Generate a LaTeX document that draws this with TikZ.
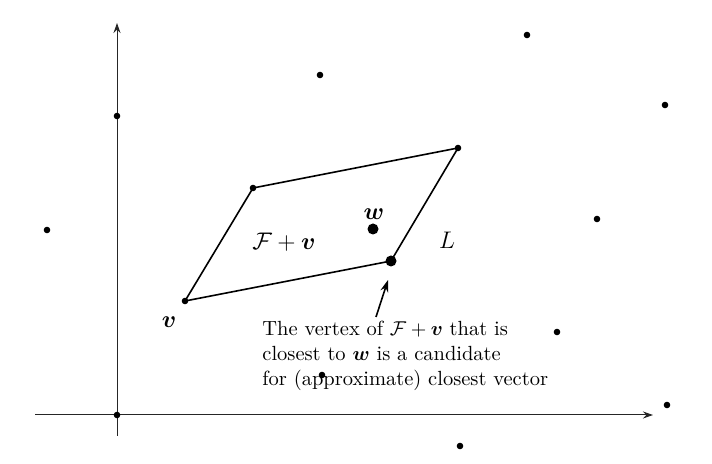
\documentclass[tikz,border=0pt]{standalone}
\usepackage{amsmath,amssymb}
\usetikzlibrary{arrows.meta}
\begin{document}
\begin{tikzpicture}[x=0.5pt,y=-0.5pt,
  dot/.style={circle,fill=black,inner sep=0pt,minimum size=3.3pt},
  bigdot/.style={circle,fill=black,inner sep=0pt,minimum size=5.5pt},
  axis/.style={line width=0.5pt,draw=black!85,-{Stealth[length=5pt,width=3.5pt]}},
  edge/.style={line width=0.8pt},
  lbl/.style={inner sep=0pt,font=\fontsize{13}{15}\selectfont}]
\useasboundingbox (0,0) rectangle (712,464);
% axes
\coordinate (xl) at (35,415);
\coordinate (xr) at (653,415);
\coordinate (yb) at (117,436);
\coordinate (yt) at (117,23);
\draw[axis] (xl) -- (xr);
\draw[axis] (yb) -- (yt);
% lattice points
\node[dot] (o) at (117,415) {};
\node[dot] (p1) at (117,116) {};
\node[dot] (p2) at (47,230) {};
\node[dot] (p3) at (320,75) {};
\node[dot] (p4) at (527,35) {};
\node[dot] (p5) at (665,105) {};
\node[dot] (p6) at (597,219) {};
\node[dot] (p7) at (557,332) {};
\node[dot] (p8) at (322,375) {};
\node[dot] (p9) at (667,405) {};
\node[dot] (p10) at (460,446) {};
% parallelogram
\node[dot] (v) at (185,301) {};
\node[dot] (a) at (253,188) {};
\node[dot] (b) at (458,148) {};
\node[bigdot] (c) at (391,261) {};
\draw[edge] (v.center) -- (a.center) -- (b.center) -- (c.center) -- (v.center);
% w
\node[bigdot] (w) at (373,229) {};
% labels
\node[lbl] (vl) at (169,322) {$\boldsymbol{v}$};
\node[lbl] (fl) at (284,242) {$\mathcal{F}+\boldsymbol{v}$};
\node[lbl] (wl) at (374,214) {$\boldsymbol{w}$};
\node[lbl] (ll) at (447,240) {$L$};
% text and arrow
\node[inner sep=0pt,anchor=west,align=left,font=\fontsize{10.25}{12.5}\selectfont] (txt) at (262,356) {The vertex of $\mathcal{F}+\boldsymbol{v}$ that is\\closest to $\boldsymbol{w}$ is a candidate\\for (approximate) closest vector};
\coordinate (as) at (376,317);
\coordinate (ae) at (388,280);
\draw[line width=0.8pt,-{Stealth[length=6pt,width=4pt]}] (as) -- (ae);
\end{tikzpicture}
\end{document}
